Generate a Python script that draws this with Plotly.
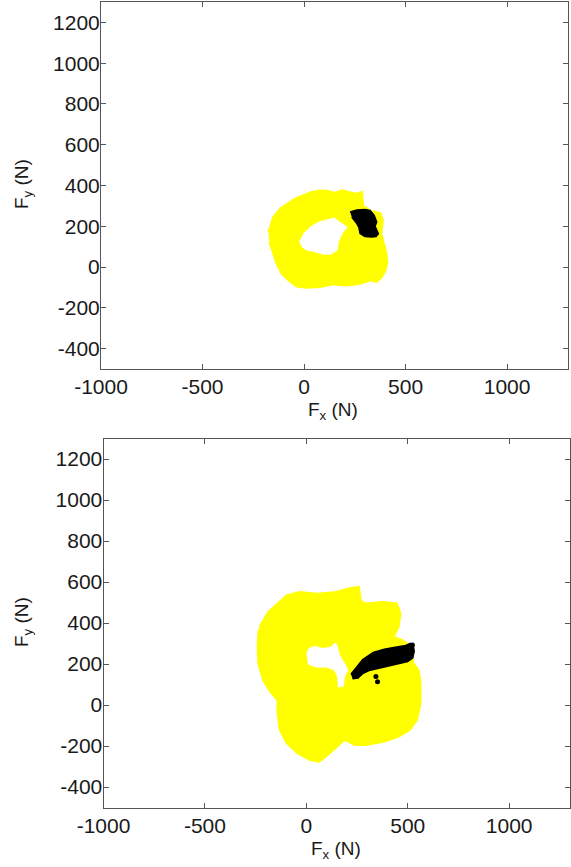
import plotly.graph_objects as go

# ---------------- data ----------------
X_TICKS = [-1000, -500, 0, 500, 1000]
Y_TICKS = [-400, -200, 0, 200, 400, 600, 800, 1000, 1200]
X_TICK_TEXT = ["-1000", "-500", "0", "500", "1000"]
Y_TICK_TEXT = ["-400", "-200", "0", "200", "400", "600", "800", "1000", "1200"]

# Top panel: yellow point-cloud outline (N)
TOP_YELLOW_X = [-176, -151, -118, -77, -44, -3, 38, 79, 120, 153, 186, 218, 259, 285, 292,
                330, 375, 388, 380, 391, 404, 410, 401, 383, 358, 325, 276, 210, 144, 79,
                13, -36, -77, -110, -135, -154, -171]
TOP_YELLOW_Y = [172, 246, 286, 314, 335, 352, 368, 376, 373, 363, 376, 368, 360, 368, 300,
                275, 265, 230, 164, 123, 74, 25, -16, -49, -73, -65, -82, -90, -85, -98,
                -101, -95, -65, -33, 16, 74, 123]
# Top panel: empty region inside the cloud
TOP_HOLE_X = [-23, -3, 30, 71, 112, 148, 177, 213, 190, 170, 164, 131, 95, 54, 13, -11]
TOP_HOLE_Y = [123, 164, 196, 221, 232, 242, 221, 196, 167, 123, 82, 62, 62, 74, 82, 98]
# Top panel: black cluster outline
TOP_BLACK_X = [227, 260, 300, 325, 345, 358, 350, 366, 355, 333, 300, 276, 270, 260, 235]
TOP_BLACK_Y = [270, 280, 282, 278, 255, 221, 200, 164, 150, 147, 150, 164, 195, 213, 245]

# Bottom panel: yellow point-cloud outline (N)
BOT_YELLOW_X = [-231, -187, -97, -33, 56, 146, 208, 259, 268, 288, 378, 446, 464, 455, 429,
                474, 518, 527, 554, 563, 563, 545, 509, 455, 384, 295, 241, 188, 152, 107,
                63, 18, -44, -97, -131, -142, -142, -178, -213, -237, -240, -236]
BOT_YELLOW_Y = [381, 454, 535, 551, 543, 551, 568, 576, 511, 495, 503, 495, 446, 381, 332,
                316, 284, 203, 170, 105, 8, -73, -122, -154, -178, -195, -195, -170, -203, -243,
                -276, -268, -235, -186, -122, -41, 24, 65, 122, 203, 284, 365]
# Bottom panel: empty region inside the cloud
BOT_HOLE_X = [2, 8, 38, 79, 117, 145, 157, 166, 194, 206, 189, 183, 157, 153, 137, 96, 46, 8]
BOT_HOLE_Y = [244, 272, 288, 277, 282, 304, 277, 239, 195, 171, 139, 90, 87, 139, 171, 184, 184, 200]
# Bottom panel: black cluster outline
BOT_BLACK_X = [220, 245, 278, 330, 384, 438, 490, 512, 528, 532, 525, 500, 470, 420, 366,
               315, 280, 255, 228]
BOT_BLACK_Y = [150, 182, 222, 256, 272, 282, 290, 300, 285, 262, 230, 212, 205, 196, 184,
               170, 155, 132, 128]
# Bottom panel: isolated black points
BOT_DOTS_X = [351, 343, 523]
BOT_DOTS_Y = [114, 139, 293]

# ---------------- figure ----------------
W, H = 571, 867
YELLOW = "#FFFF00"


def px_x(p):
    return p / W


def px_y(p):
    return 1 - p / H


fig = go.Figure()


def add_panel(xa, ya, yx, yy, hx, hy, bx, by):
    fig.add_trace(go.Scatter(x=yx, y=yy, mode="lines", fill="toself", fillcolor=YELLOW,
                             line=dict(color=YELLOW, width=2), hoverinfo="skip",
                             showlegend=False, xaxis=xa, yaxis=ya))
    fig.add_trace(go.Scatter(x=hx, y=hy, mode="lines", fill="toself", fillcolor="white",
                             line=dict(color="white", width=0.5), hoverinfo="skip",
                             showlegend=False, xaxis=xa, yaxis=ya))
    fig.add_trace(go.Scatter(x=bx, y=by, mode="lines", fill="toself", fillcolor="black",
                             line=dict(color="black", width=1.5), hoverinfo="skip",
                             showlegend=False, xaxis=xa, yaxis=ya))


add_panel("x", "y", TOP_YELLOW_X, TOP_YELLOW_Y, TOP_HOLE_X, TOP_HOLE_Y, TOP_BLACK_X, TOP_BLACK_Y)
add_panel("x2", "y2", BOT_YELLOW_X, BOT_YELLOW_Y, BOT_HOLE_X, BOT_HOLE_Y, BOT_BLACK_X, BOT_BLACK_Y)
fig.add_trace(go.Scatter(x=BOT_DOTS_X, y=BOT_DOTS_Y, mode="markers",
                         marker=dict(color="black", size=5), hoverinfo="skip",
                         showlegend=False, xaxis="x2", yaxis="y2"))

FONT = "Liberation Sans, Arial, Helvetica, sans-serif"
axis_common = dict(ticks="inside", ticklen=5, tickwidth=1, tickcolor="#555555",
                   showline=True, linecolor="#555555", linewidth=1, mirror="ticks",
                   showgrid=False, zeroline=False, automargin=False,
                   tickfont=dict(family=FONT, size=21, color="#1a1a1a"))


def xaxis(x0, x1, anchor):
    return dict(axis_common, range=[-1000, 1300], tickvals=X_TICKS, ticktext=X_TICK_TEXT,
                domain=[px_x(x0), px_x(x1)], anchor=anchor, ticklabelstandoff=-1)


def yaxis(y0, y1, anchor):
    return dict(axis_common, range=[-500, 1300], tickvals=Y_TICKS, ticktext=Y_TICK_TEXT,
                domain=[px_y(y1), px_y(y0)], anchor=anchor, ticklabelstandoff=-4)


fig.update_layout(
    width=W, height=H,
    margin=dict(l=0, r=0, t=0, b=0, autoexpand=False),
    paper_bgcolor="white", plot_bgcolor="white",
    xaxis=xaxis(101, 568, "y"),
    yaxis=yaxis(2, 369, "x"),
    xaxis2=xaxis(103.5, 570, "y2"),
    yaxis2=yaxis(438.5, 807.5, "x2"),
)

title_font = dict(family=FONT, size=19, color="#1a1a1a")
annos = [
    dict(x=px_x(333), y=px_y(411), text="F<sub>x</sub> (N)", textangle=0),
    dict(x=px_x(23), y=px_y(184), text="F<sub>y</sub> (N)", textangle=-90),
    dict(x=px_x(336), y=px_y(850), text="F<sub>x</sub> (N)", textangle=0),
    dict(x=px_x(23), y=px_y(622), text="F<sub>y</sub> (N)", textangle=-90),
]
for a in annos:
    fig.add_annotation(xref="paper", yref="paper", showarrow=False,
                       xanchor="center", yanchor="middle", font=title_font, **a)

# remove the default 8px page margin so the figure fills the window exactly
fig.write_html("out.html", config={"displayModeBar": False},
               post_script="document.body.style.margin='0';document.body.style.overflow='hidden';")
